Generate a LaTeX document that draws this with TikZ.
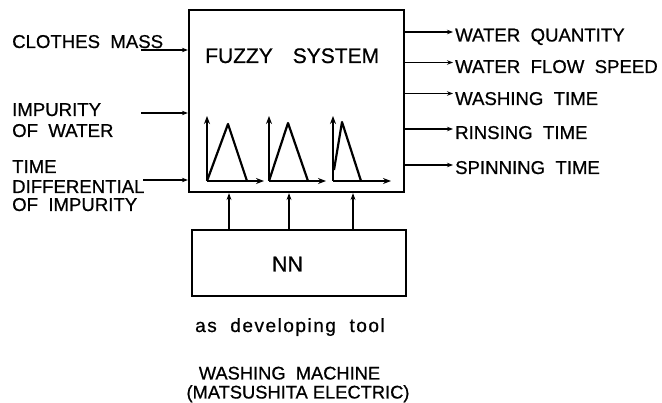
\documentclass[tikz,border=0pt]{standalone}
\usepackage{fontspec}
\setmainfont{Liberation Sans}[FakeBold=0.7]
\newfontfamily\spacedfont{Liberation Sans}[FakeBold=0.7, LetterSpace=8]
\usetikzlibrary{arrows.meta}
\begin{document}
\begin{tikzpicture}[x=1pt,y=-1pt,
  lbl/.style={font=\fontsize{18.6}{19}\selectfont, inner sep=0pt, anchor=base west},
  boxst/.style={draw, line width=2.2pt, inner sep=0pt},
  inarr/.style={line width=1.2pt, -{Stealth[length=6pt,width=4.5pt]}},
  axarr/.style={line width=2.2pt, -{Stealth[length=8pt,width=6pt]}},
  tri/.style={line width=2.2pt, line join=round},
  upa/.style={line width=2.2pt, -{Stealth[length=7pt,width=5pt]}}]
\useasboundingbox (0,0) rectangle (662,403);
% boxes
\node[boxst, minimum width=215pt, minimum height=182pt] (fs) at (296.5,101) {};
\node[lbl, font=\fontsize{21}{22}\selectfont] (fst) at (205,63) {FUZZY\hspace{0.95em}SYSTEM};
\node[boxst, minimum width=214pt, minimum height=66pt] (nn) at (299,263) {};
\node[lbl, anchor=base, font=\fontsize{21.5}{22}\selectfont] (nnt) at (287.5,271.5) {NN};
% inputs
\node[lbl] (i1a) at (12,48) {CLOTHES\ \ MASS};
\node[lbl] (i2a) at (12,116) {IMPURITY};
\node[lbl] (i2b) at (12,137) {OF\ \ WATER};
\node[lbl] (i3a) at (12,173) {TIME};
\node[lbl] (i3b) at (12,193) {DIFFERENTIAL};
\node[lbl] (i3c) at (12,211) {OF\ \ IMPURITY};
\coordinate (c1) at (141,50);
\coordinate (c2) at (141,113);
\coordinate (c3) at (143,180);
\draw[inarr] (c1) -- (c1 -| fs.west);
\draw[inarr] (c2) -- (c2 -| fs.west);
\draw[inarr] (c3) -- (c3 -| fs.west);
% outputs
\node[lbl] (o1) at (455,41.5) {WATER\ \ QUANTITY};
\node[lbl] (o2) at (455,73) {WATER\ \ FLOW\ \ SPEED};
\node[lbl] (o3) at (455,105) {WASHING\ \ TIME};
\node[lbl] (o4) at (455,139) {RINSING\ \ TIME};
\node[lbl] (o5) at (455,174) {SPINNING\ \ TIME};
\coordinate (e1) at (453,32);
\coordinate (e2) at (453,62.5);
\coordinate (e3) at (453,93.5);
\coordinate (e4) at (453,129);
\coordinate (e5) at (453,165);
\foreach \e in {e1,e2,e3,e4,e5}{
  \draw[inarr] (fs.east |- \e) -- (\e);
}
% membership functions
\draw[axarr] (207,181) -- (207,116);
\draw[axarr] (207,181) -- (264,181);
\draw[tri] (207,181) -- (228,124) -- (247,181);
\draw[axarr] (269,181) -- (269,116);
\draw[axarr] (269,181) -- (326,181);
\draw[tri] (269,181) -- (288,123) -- (308,181);
\draw[axarr] (333,181) -- (333,116);
\draw[axarr] (333,181) -- (391,181);
\draw[tri] (334,170) -- (342,122) -- (361,181);
% NN to fuzzy
\foreach \xx in {229,289,353}{
  \draw[upa] (nn.north -| \xx,0) -- (fs.south -| \xx,0);
}
% captions
\node[lbl, font=\spacedfont\fontsize{19}{20}\selectfont] (cap1) at (195,332) {as\ \ developing\ \ tool};
\node[lbl, anchor=base, font=\fontsize{18.3}{19}\selectfont] (cap2) at (289.5,379.5) {WASHING\ \ MACHINE};
\node[lbl, anchor=base, font=\fontsize{18.3}{19}\selectfont] (cap3) at (298,398.5) {(MATSUSHITA\ ELECTRIC)};
\end{tikzpicture}
\end{document}
